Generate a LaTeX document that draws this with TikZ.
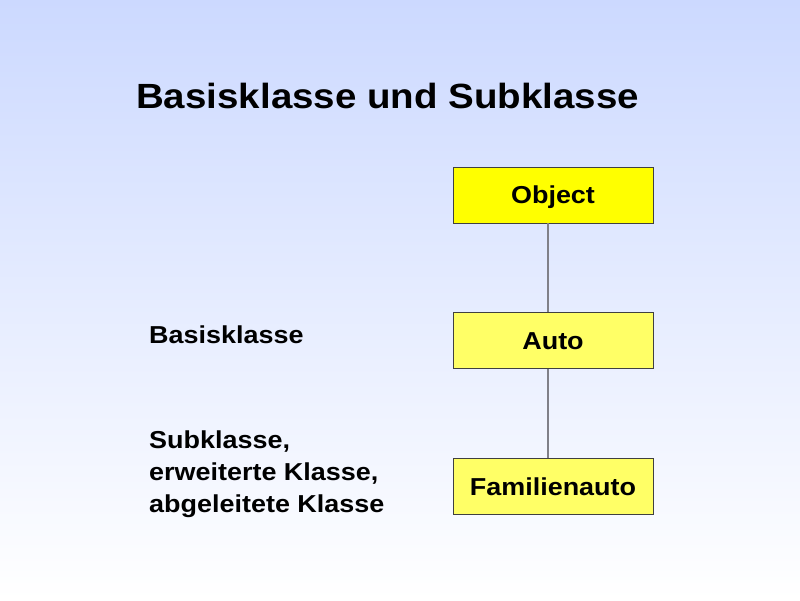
\documentclass[tikz,border=0pt]{standalone}
\usepackage{fontspec}
\setmainfont{Liberation Sans}[FakeStretch=1.1]
\usetikzlibrary{positioning}
\definecolor{bgtop}{RGB}{204,217,255}
\definecolor{objyellow}{RGB}{255,255,0}
\definecolor{clsyellow}{RGB}{255,255,102}
\definecolor{boxline}{RGB}{64,64,64}
\definecolor{linkgray}{RGB}{128,128,136}
\begin{document}
\begin{tikzpicture}[x=1pt,y=-1pt,font=\bfseries]

% Background
\useasboundingbox (0,0) rectangle (800,600);
\shade[top color=bgtop, bottom color=white] (0,0) rectangle (800,600);

% Title
\node[anchor=base west, inner sep=0pt,
    font=\bfseries\fontsize{35pt}{42pt}\selectfont
] (title) at (136,108) {Basisklasse und Subklasse};

% Class boxes
\node[draw=boxline, fill=objyellow,
    line width=0.8pt,
    minimum width=200pt,
    minimum height=56pt,
    text height=17.5pt, text depth=0pt,
    font=\bfseries\fontsize{24.5pt}{30pt}\selectfont,
     text centered
] (object) at (553,195) {Object};

\node[draw=boxline, fill=clsyellow,
    below=89pt of object,
    line width=0.8pt,
    minimum width=200pt,
    minimum height=56pt,
    text height=17.5pt, text depth=0pt,
    font=\bfseries\fontsize{24.5pt}{30pt}\selectfont,
     text centered
] (auto) {Auto};

\node[draw=boxline, fill=clsyellow,
    below=89pt of auto,
    line width=0.8pt,
    minimum width=200pt,
    minimum height=56pt,
    text height=17.5pt, text depth=0pt,
    font=\bfseries\fontsize{24.5pt}{30pt}\selectfont,
     text centered
] (familienauto) {Familienauto};

% Labels
\node[anchor=base west, inner sep=0pt,
    font=\bfseries\fontsize{24.5pt}{30pt}\selectfont
] (basis) at (149,343) {Basisklasse};

\node[anchor=base west, inner sep=0pt,
    align=left,
    font=\bfseries\fontsize{24.5pt}{32pt}\selectfont
] (sub) at (149,512) {Subklasse,\\erweiterte Klasse,\\abgeleitete Klasse};

% Links
\draw[linkgray, line width=1.2pt] ([xshift=-5pt]object.south) -- ([xshift=-5pt]auto.north);
\draw[linkgray, line width=1.2pt] ([xshift=-5pt]auto.south) -- ([xshift=-5pt]familienauto.north);
\end{tikzpicture}
\end{document}
